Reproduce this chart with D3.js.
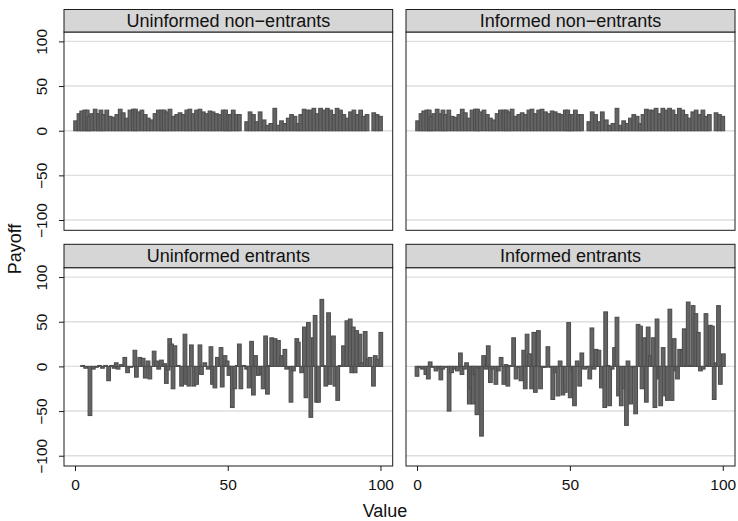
<!DOCTYPE html>
<html>
<head>
<meta charset="utf-8">
<script src="https://cdn.jsdelivr.net/npm/d3@7"></script>
<style>
  html, body { margin: 0; padding: 0; background: #ffffff; }
  svg { display: block; font-family: "Liberation Sans", Arial, Helvetica, sans-serif; }
</style>
</head>
<body>
<svg id="chart" width="738" height="521"></svg>
<script>
// ---------------- data ----------------
const panelTitles = ["Uninformed non\u2212entrants", "Informed non\u2212entrants", "Uninformed entrants", "Informed entrants"];
const yTicks = [-100, -50, 0, 50, 100];
const xTicks = [0, 50, 100];
const xTitle = "Value";
const yTitle = "Payoff";

const uninformedNonEntrantValue = [0.2,1.3,2.2,3.2,4.0,4.6,5.5,6.6,7.7,8.5,9.3,10.4,11.5,12.6,13.7,14.8,15.8,16.9,18,19.1,19.8,20.7,21.9,23,24,25.1,26.2,27.3,28.4,29.2,30.1,31.1,32.2,33.3,34.4,35.5,36.6,37.6,38.7,39.8,40.9,42,43.1,44.2,45.2,46.3,47.4,48.5,49.3,50.1,50.8,51.8,52.9,53.8,56.2,57.3,58.4,59.5,60.6,61.9,63,64.1,65.4,66.5,67.6,68.7,69.8,70.9,72,73,73.9,75,76,77.1,78.2,79.3,80.4,81.5,82.6,83.7,84.8,85.8,86.9,88,89.1,90.2,91.3,92.4,93.5,94.5,95.6,97.8,98.9,100];
const uninformedNonEntrantPayoff = [11,19,22,23,23,16,19,24,19,23,18,23,16,15,18,24,20,14,23,24,24,21,23,18,14,12,19,23,23,23,21,24,16,18,20,18,23,24,19,23,24,21,19,22,21,19,18,23,23,18,18,23,18,18,10,21,18,10,21,12,6,8,25,6,11,8,14,18,16,8,18,24,23,23,25,19,25,23,25,23,18,25,23,18,14,21,23,18,23,16,18,20,18,16];

const informedNonEntrantValue = [0.2,1.3,2.2,3.2,4.0,4.6,5.5,6.6,7.7,8.5,9.3,10.4,11.5,12.6,13.7,14.8,15.8,16.9,18,19.1,19.8,20.7,21.9,23,24,25.1,26.2,27.3,28.4,29.2,30.1,31.1,32.2,33.3,34.4,35.5,36.6,37.6,38.7,39.8,40.9,42,43.1,44.2,45.2,46.3,47.4,48.5,49.3,50.1,50.8,51.8,52.9,53.8,56.2,57.3,58.4,59.5,60.6,61.9,63,64.1,65.4,66.5,67.6,68.7,69.8,70.9,72,73,73.9,75,76,77.1,78.2,79.3,80.4,81.5,82.6,83.7,84.8,85.8,86.9,88,89.1,90.2,91.3,92.4,93.5,94.5,95.6,97.8,98.9,100];
const informedNonEntrantPayoff = [11,19,22,23,23,16,19,24,19,23,18,23,16,15,18,24,20,14,23,24,24,21,23,18,14,12,19,23,23,23,21,24,16,18,20,18,23,24,19,23,24,21,19,22,21,19,18,23,23,18,18,23,18,18,10,21,18,10,21,12,6,8,25,6,11,8,14,18,16,8,18,24,23,23,25,19,25,23,25,23,18,25,23,18,14,21,23,18,23,16,18,20,18,16];

const uninformedEntrantValue = [2.5,3.5,4.9,6,7,8,9,10,11,12,12.8,13.5,14.1,15.2,16.3,17.2,18.3,19.6,20.1,21.2,22.3,23,23.9,24.5,25.9,26.7,27.4,28.3,29.4,29.9,30.5,31,31.6,32.1,32.7,33.8,34.9,36,36.5,37.3,38.1,38.9,39.8,40.9,41.4,42.5,43.6,44.5,45,45.8,46.6,47.8,48.2,49.1,49.8,50.4,50.9,51.5,52.3,53.1,53.8,54.3,55.3,56.2,57,57.8,58.4,59.1,60,60.9,61.6,62.4,63,63.8,64.4,65.5,66.6,67.7,68.7,69.3,70.7,71.5,72.6,73.1,74.2,75.1,75.6,76.4,77.2,78,78.6,79.1,79.7,80.8,81.3,82.1,83,83.5,84.6,85.1,86,86.8,87.9,89,90.1,90.6,91.1,91.7,92.2,93.3,93.9,95,95.8,96.6,97.7,98.3,99.1,100.1];
const uninformedEntrantPayoff = [1,-2,-55,-3,-1,1,-2,1,-16,1,-2,4,-3,2,10,-7,-1,18,-12,10,9,-13,6,-14,17,6,-3,7,3,-19,-4,31,25,-25,23,1,-22,36,-20,-22,24,-22,-20,24,-9,4,-3,22,-20,-24,10,21,-23,12,6,-10,-3,-46,-25,1,25,-25,1,-3,-24,28,-32,12,-10,-9,-25,34,-31,1,32,31,29,12,19,-3,-40,-5,31,27,-7,44,-35,49,-57,32,57,-40,-40,75,1,-22,60,-20,34,-22,-38,1,23,51,53,-7,44,-7,40,36,4,39,8,10,-22,12,8,38];

const informedEntrantValue = [0,0.7,1.8,2.9,3.7,4.3,5.1,6.2,7,7.8,8.4,9.8,10.5,11.3,12.2,13.2,14.2,14.7,15.5,16.2,17.1,17.7,18.4,19,19.6,20.4,21.1,21.8,22.6,23.3,24,24.8,25.8,26.6,27.5,28.4,29.1,29.7,30.5,31.6,32.4,33.5,34,34.9,35.4,36,36.8,37.5,38.2,38.7,39.7,40.4,41.1,42,42.8,43.7,44.4,45.3,46.1,46.8,47.7,48.5,49.6,50.1,51,51.5,52.4,53.2,53.9,54.8,55.9,56.5,57.2,57.9,58.6,59.5,60.3,61.4,61.7,62.4,63,63.8,64.6,65.4,65.9,66.8,67.7,68.5,69,69.9,70.9,71.5,72.3,73.1,73.6,74.3,75,75.6,76.3,77.2,77.8,78.5,79.1,79.7,80.5,81.3,81.9,82.7,83.4,84.1,84.6,85.2,85.9,86.7,87.4,88.1,88.7,89.6,90.3,91.2,92,92.7,93.6,94.5,95.2,95.9,96.6,97.2,97.9,98.6,99.2,100.2];
const informedEntrantPayoff = [-11,-1,-3,-9,-14,5,-1,-5,-2,-15,-3,-1,-50,-7,-3,-5,15,-9,-3,4,-42,-25,-42,-9,-54,-2,-78,12,-3,23,-18,-3,-20,-5,10,-20,2,-22,1,32,-14,-1,-16,18,-25,36,14,-25,38,-29,40,-25,-1,-1,22,-1,-37,-7,-33,6,-32,-29,49,-35,-5,-44,6,-22,15,-3,-1,-14,43,-3,19,18,-24,-46,61,1,-44,-3,21,55,-33,-44,-25,-66,6,-42,-1,-53,47,45,-25,32,-40,44,12,32,-46,53,-14,-44,21,-33,-38,64,-38,31,-5,-14,19,18,42,1,72,1,68,59,38,-5,-3,59,1,46,45,-37,4,68,-20,14];

// ---------------- layout ----------------
const svg = d3.select("#chart");
const cols = [{left: 64, right: 392.7}, {left: 406, right: 735}];
const rows = [{stripTop: 9.5, top: 32, bottom: 230.3}, {stripTop: 244.3, top: 267.7, bottom: 466}];

const panels = [
  {title: panelTitles[0], xs: uninformedNonEntrantValue, ys: uninformedNonEntrantPayoff, col: 0, row: 0},
  {title: panelTitles[1], xs: informedNonEntrantValue, ys: informedNonEntrantPayoff, col: 1, row: 0},
  {title: panelTitles[2], xs: uninformedEntrantValue, ys: uninformedEntrantPayoff, col: 0, row: 1},
  {title: panelTitles[3], xs: informedEntrantValue, ys: informedEntrantPayoff, col: 1, row: 1}
];

const barFill = "#646464";
const barStroke = "#4e4e4e";
const barHalf = 0.6;

panels.forEach(p => {
  const c = cols[p.col], r = rows[p.row];
  const x = d3.scaleLinear().domain([-3.6, 104]).range([c.left, c.right]);
  const y = d3.scaleLinear().domain([-111.5, 110.5]).range([r.bottom, r.top]);
  const g = svg.append("g");

  // gridlines
  g.selectAll("line.grid").data(yTicks).enter().append("line")
    .attr("x1", c.left).attr("x2", c.right)
    .attr("y1", d => y(d)).attr("y2", d => y(d))
    .attr("stroke", "#dedede").attr("stroke-width", 1.4);

  // bars (from 0 to payoff)
  const data = p.xs.map((v, i) => ({v: v, pay: p.ys[i]}));
  g.selectAll("rect.bar").data(data).enter().append("rect")
    .attr("x", d => x(d.v - barHalf))
    .attr("width", d => x(d.v + barHalf) - x(d.v - barHalf))
    .attr("y", d => y(Math.max(0, d.pay)))
    .attr("height", d => Math.abs(y(d.pay) - y(0)))
    .attr("fill", barFill)
    .attr("stroke", barStroke)
    .attr("stroke-width", 1.1);

  // panel border
  g.append("rect")
    .attr("x", c.left).attr("y", r.top)
    .attr("width", c.right - c.left).attr("height", r.bottom - r.top)
    .attr("fill", "none").attr("stroke", "#1a1a1a").attr("stroke-width", 1);

  // strip
  g.append("rect")
    .attr("x", c.left).attr("y", r.stripTop)
    .attr("width", c.right - c.left).attr("height", r.top - r.stripTop)
    .attr("fill", "#d6d6d6").attr("stroke", "#1a1a1a").attr("stroke-width", 1);
  g.append("text")
    .attr("x", (c.left + c.right) / 2).attr("y", (r.stripTop + r.top) / 2)
    .attr("dy", "0.36em")
    .attr("text-anchor", "middle")
    .attr("font-size", 18)
    .attr("fill", "#111")
    .text(p.title);

  // y axis on left column
  if (p.col === 0) {
    const ax = g.append("g").attr("transform", `translate(${c.left},0)`)
      .call(d3.axisLeft(y).tickValues(yTicks).tickSize(5).tickSizeOuter(0)
        .tickFormat(d => d < 0 ? "\u2212" + Math.abs(d) : String(d)));
    ax.select(".domain").remove();
    ax.selectAll(".tick line").attr("stroke", "#1a1a1a");
    ax.selectAll(".tick text")
      .attr("transform", "rotate(-90)")
      .attr("x", 0).attr("y", -17).attr("dy", null)
      .attr("text-anchor", "middle")
      .attr("font-size", 15.5)
      .attr("fill", "#111")
      .attr("font-family", "Liberation Sans, Arial, sans-serif");
  }
  // x axis on bottom row
  if (p.row === 1) {
    const ax = g.append("g").attr("transform", `translate(0,${r.bottom})`)
      .call(d3.axisBottom(x).tickValues(xTicks).tickSize(5).tickSizeOuter(0));
    ax.select(".domain").remove();
    ax.selectAll(".tick line").attr("stroke", "#1a1a1a");
    ax.selectAll(".tick text")
      .attr("y", 13)
      .attr("font-size", 15.5)
      .attr("fill", "#111")
      .attr("font-family", "Liberation Sans, Arial, sans-serif");
  }
});

// axis titles
svg.append("text")
  .attr("transform", "translate(21,249) rotate(-90)")
  .attr("text-anchor", "middle")
  .attr("font-size", 18)
  .attr("fill", "#111")
  .text(yTitle);
svg.append("text")
  .attr("x", 385).attr("y", 517)
  .attr("text-anchor", "middle")
  .attr("font-size", 18)
  .attr("fill", "#111")
  .text(xTitle);
</script>
</body>
</html>
